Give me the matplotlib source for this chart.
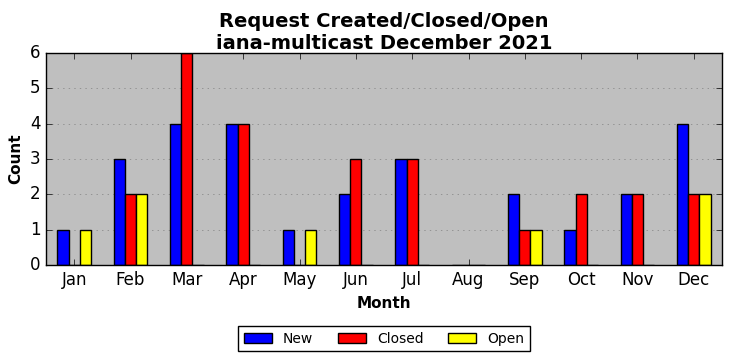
import matplotlib
matplotlib.use("Agg")
import matplotlib.pyplot as plt
import numpy as np

plt.style.use("classic")

months = ["Jan", "Feb", "Mar", "Apr", "May", "Jun", "Jul", "Aug", "Sep", "Oct", "Nov", "Dec"]
new_vals = [1, 3, 4, 4, 1, 2, 3, 0, 2, 1, 2, 4]
closed_vals = [0, 2, 6, 4, 0, 3, 3, 0, 1, 2, 2, 2]
open_vals = [1, 2, 0, 0, 1, 0, 0, 0, 1, 0, 0, 2]

fig = plt.figure(figsize=(7.32, 3.61), dpi=100)
ax = fig.add_axes([46/732, 1 - 265/361, 676/732, 212/361])
ax.set_facecolor("#bfbfbf")

x = np.arange(len(months))
w = 0.2
ax.bar(x - w, new_vals, w, color="blue", edgecolor="black", label="New", align="center")
ax.bar(x, closed_vals, w, color="red", edgecolor="black", label="Closed", align="center")
ax.bar(x + w, open_vals, w, color="yellow", edgecolor="black", label="Open", align="center")

ax.set_xlim(-0.5, 11.5)
ax.set_ylim(0, 6)
ax.set_xticks(x)
ax.set_xticklabels(months, fontsize=12)
ax.tick_params(axis="y", labelsize=12)
ax.yaxis.grid(True, linestyle=":", color="#808080")
ax.xaxis.grid(False)
ax.set_axisbelow(True)

ax.set_xlabel("Month", fontsize=11, fontweight="bold")
ax.set_ylabel("Count", fontsize=11, fontweight="bold")
ax.set_title("Request Created/Closed/Open\niana-multicast December 2021", fontsize=14, fontweight="bold", pad=3)

leg = ax.legend(loc="upper center", bbox_to_anchor=(0.5, -0.255), ncol=3, fontsize=10,
                frameon=True, columnspacing=1.8)
leg.get_frame().set_edgecolor("black")

fig.savefig("out.png", dpi=100)
